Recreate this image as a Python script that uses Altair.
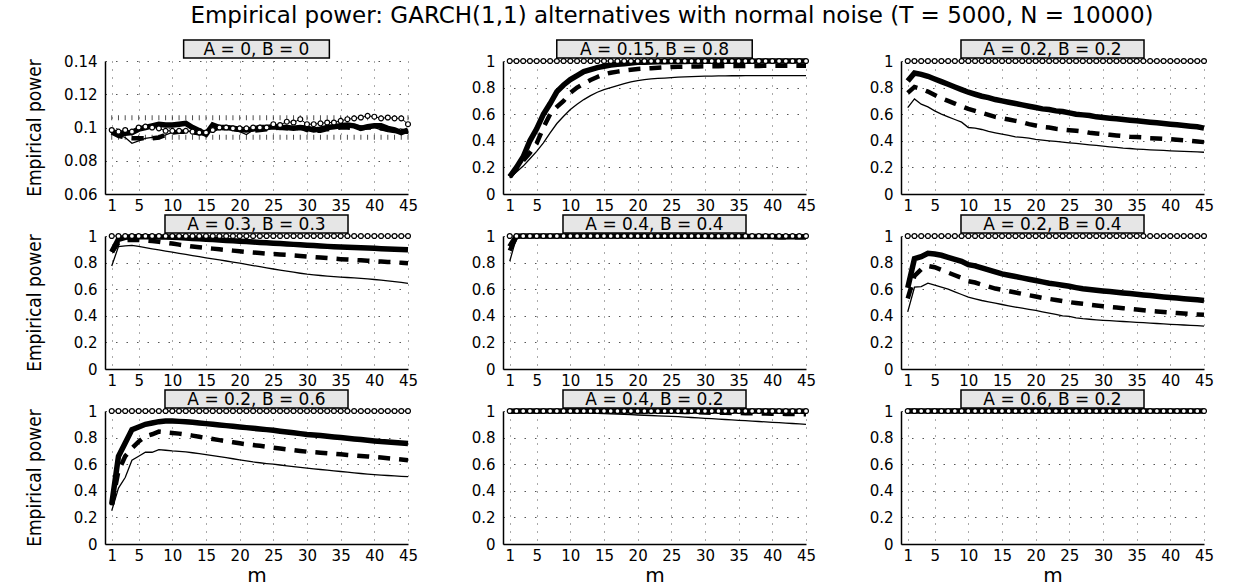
import altair as alt
import pandas as pd

# ---------------- data ----------------
M = list(range(1, 46))
X_TICKS = [1, 5, 10, 15, 20, 25, 30, 35, 40, 45]
Y_TICKS_FIRST = [0.06, 0.08, 0.1, 0.12, 0.14]
Y_TICKS = [0, 0.2, 0.4, 0.6, 0.8, 1]
CI_BAND = [0.0941, 0.1059]
PANEL_LABELS = ["A = 0, B = 0", "A = 0.15, B = 0.8", "A = 0.2, B = 0.2",
                "A = 0.3, B = 0.3", "A = 0.4, B = 0.4", "A = 0.2, B = 0.4",
                "A = 0.2, B = 0.6", "A = 0.4, B = 0.2", "A = 0.6, B = 0.2"]
TITLE = "Empirical power: GARCH(1,1) alternatives with normal noise (T = 5000, N = 10000)"

ONES = [1, 1, 1, 1, 1, 1, 1, 1, 1, 1, 1, 1, 1, 1, 1, 1, 1, 1, 1, 1, 1, 1, 1,
        1, 1, 1, 1, 1, 1, 1, 1, 1, 1, 1, 1, 1, 1, 1, 1, 1, 1, 1, 1, 1, 1]

P1_THIN = [0.0985, 0.0955, 0.094, 0.0905, 0.092, 0.0935, 0.094, 0.0945, 0.0955, 0.097,
           0.0975, 0.0975, 0.098, 0.0985, 0.0965, 0.099, 0.1, 0.0995, 0.099, 0.0975,
           0.0958, 0.0985, 0.0995, 0.1, 0.1005, 0.1, 0.0995, 0.1, 0.1, 0.0995,
           0.0995, 0.1, 0.1, 0.1005, 0.101, 0.1015, 0.1015, 0.101, 0.1005, 0.1,
           0.0985, 0.0975, 0.097, 0.097, 0.0965]
P1_DASH = [0.097, 0.095, 0.094, 0.0935, 0.0935, 0.0935, 0.0935, 0.094, 0.0955, 0.097,
           0.0975, 0.0975, 0.097, 0.0965, 0.0965, 0.0985, 0.1, 0.0995, 0.099, 0.0985,
           0.0985, 0.098, 0.0985, 0.099, 0.0995, 0.1, 0.0995, 0.0995, 0.1, 0.0985,
           0.098, 0.098, 0.099, 0.0995, 0.1, 0.1, 0.0995, 0.0995, 0.1, 0.1,
           0.0995, 0.099, 0.0985, 0.098, 0.0975]
P1_THICK = [0.0975, 0.0965, 0.0965, 0.097, 0.099, 0.1, 0.101, 0.102, 0.1015, 0.1015,
            0.102, 0.1025, 0.1, 0.098, 0.096, 0.1015, 0.1, 0.1, 0.0995, 0.099,
            0.0985, 0.099, 0.1, 0.1, 0.1005, 0.1, 0.1, 0.0995, 0.1, 0.0995,
            0.0985, 0.099, 0.1, 0.1005, 0.101, 0.1015, 0.101, 0.0995, 0.1005, 0.101,
            0.101, 0.0995, 0.0985, 0.097, 0.0985]
P1_CIRC = [0.0985, 0.0975, 0.0985, 0.0975, 0.1, 0.1005, 0.1, 0.0995, 0.098, 0.098,
           0.098, 0.098, 0.0975, 0.097, 0.097, 0.0985, 0.1, 0.1, 0.0995, 0.0995,
           0.0995, 0.1, 0.1, 0.1, 0.102, 0.1015, 0.1035, 0.103, 0.105, 0.102,
           0.102, 0.1025, 0.103, 0.103, 0.104, 0.105, 0.1055, 0.106, 0.107, 0.1065,
           0.1055, 0.106, 0.1055, 0.1055, 0.102]

P2_THIN = [0.12, 0.165, 0.21, 0.265, 0.32, 0.385, 0.46, 0.53, 0.585, 0.635,
           0.675, 0.71, 0.74, 0.765, 0.785, 0.8, 0.815, 0.83, 0.843, 0.853,
           0.86, 0.865, 0.869, 0.872, 0.875, 0.878, 0.88, 0.882, 0.884, 0.886,
           0.887, 0.888, 0.888, 0.889, 0.889, 0.89, 0.89, 0.89, 0.89, 0.89,
           0.89, 0.89, 0.89, 0.89, 0.89]
P2_DASH = [0.13, 0.19, 0.25, 0.31, 0.38, 0.5, 0.6, 0.655, 0.7, 0.76,
           0.8, 0.83, 0.857, 0.88, 0.9, 0.912, 0.92, 0.928, 0.934, 0.94,
           0.943, 0.946, 0.949, 0.952, 0.955, 0.956, 0.957, 0.958, 0.959, 0.96,
           0.961, 0.961, 0.962, 0.962, 0.962, 0.963, 0.963, 0.963, 0.964, 0.964,
           0.964, 0.965, 0.965, 0.965, 0.965]
P2_THICK = [0.13, 0.2, 0.28, 0.4, 0.49, 0.6, 0.68, 0.77, 0.82, 0.86,
            0.89, 0.92, 0.935, 0.95, 0.96, 0.97, 0.975, 0.98, 0.985, 0.99,
            0.99, 0.992, 0.994, 0.995, 0.996, 0.997, 0.997, 0.998, 0.998, 0.998,
            0.999, 0.999, 0.999, 0.999, 0.999, 0.999, 0.999, 1, 1, 1,
            1, 1, 1, 1, 1]

P3_THIN = [0.65, 0.715, 0.675, 0.655, 0.625, 0.6, 0.58, 0.56, 0.54, 0.5,
           0.495, 0.485, 0.47, 0.46, 0.45, 0.44, 0.43, 0.425, 0.42, 0.41,
           0.405, 0.4, 0.395, 0.39, 0.385, 0.38, 0.375, 0.37, 0.365, 0.36,
           0.355, 0.35, 0.345, 0.342, 0.338, 0.335, 0.332, 0.33, 0.328, 0.325,
           0.322, 0.32, 0.318, 0.316, 0.314]
P3_DASH = [0.76, 0.805, 0.79, 0.77, 0.745, 0.72, 0.7, 0.68, 0.66, 0.64,
           0.625, 0.61, 0.595, 0.58, 0.57, 0.56, 0.55, 0.54, 0.525, 0.515,
           0.505, 0.5, 0.49, 0.485, 0.48, 0.475, 0.47, 0.46, 0.455, 0.45,
           0.445, 0.44, 0.435, 0.43, 0.428, 0.425, 0.42, 0.418, 0.415, 0.412,
           0.408, 0.404, 0.4, 0.395, 0.39]
P3_THICK = [0.85, 0.91, 0.9, 0.885, 0.865, 0.845, 0.825, 0.805, 0.785, 0.765,
            0.75, 0.735, 0.725, 0.71, 0.7, 0.69, 0.68, 0.67, 0.66, 0.65,
            0.64, 0.635, 0.625, 0.62, 0.61, 0.6, 0.595, 0.59, 0.58, 0.575,
            0.57, 0.565, 0.56, 0.555, 0.55, 0.545, 0.54, 0.535, 0.53, 0.525,
            0.52, 0.515, 0.51, 0.505, 0.495]

P4_THIN = [0.775, 0.92, 0.925, 0.93, 0.922, 0.912, 0.903, 0.895, 0.887, 0.878,
           0.87, 0.862, 0.853, 0.845, 0.836, 0.828, 0.82, 0.812, 0.804, 0.796,
           0.787, 0.778, 0.769, 0.76, 0.752, 0.744, 0.736, 0.728, 0.72, 0.713,
           0.708, 0.703, 0.699, 0.695, 0.691, 0.688, 0.685, 0.682, 0.678, 0.673,
           0.668, 0.663, 0.657, 0.651, 0.644]
P4_DASH = [0.88, 0.95, 0.97, 0.972, 0.97, 0.966, 0.962, 0.957, 0.95, 0.943,
           0.935, 0.928, 0.921, 0.915, 0.91, 0.905, 0.9, 0.895, 0.89, 0.885,
           0.88, 0.876, 0.872, 0.868, 0.864, 0.861, 0.858, 0.854, 0.85, 0.846,
           0.842, 0.838, 0.834, 0.83, 0.826, 0.823, 0.82, 0.817, 0.814, 0.811,
           0.808, 0.805, 0.802, 0.799, 0.796]
P4_THICK = [0.88, 0.975, 0.99, 0.995, 0.995, 0.995, 0.994, 0.993, 0.992, 0.99,
            0.988, 0.985, 0.982, 0.979, 0.976, 0.973, 0.97, 0.967, 0.964, 0.961,
            0.958, 0.955, 0.952, 0.949, 0.946, 0.943, 0.94, 0.937, 0.934, 0.931,
            0.928, 0.925, 0.922, 0.92, 0.917, 0.915, 0.913, 0.911, 0.909, 0.907,
            0.905, 0.903, 0.901, 0.899, 0.897]

P5_THIN = [0.81, 0.99, 0.995, 0.996, 0.996, 0.996, 0.996, 0.996, 0.996, 0.996,
           0.996, 0.996, 0.996, 0.996, 0.996, 0.995, 0.995, 0.995, 0.994, 0.994,
           0.994, 0.993, 0.993, 0.993, 0.992, 0.992, 0.992, 0.991, 0.991, 0.991,
           0.99, 0.99, 0.99, 0.989, 0.989, 0.989, 0.988, 0.988, 0.988, 0.987,
           0.987, 0.986, 0.986, 0.985, 0.985]
P5_DASH = [0.89, 0.995, 0.999, 0.999, 0.999, 0.999, 0.999, 0.999, 0.999, 0.999,
           0.999, 0.999, 0.999, 0.999, 0.999, 0.999, 0.999, 0.999, 0.999, 0.999,
           0.997, 0.997, 0.997, 0.997, 0.997, 0.997, 0.997, 0.997, 0.997, 0.997,
           0.994, 0.994, 0.994, 0.994, 0.994, 0.994, 0.994, 0.994, 0.994, 0.994,
           0.99, 0.99, 0.99, 0.99, 0.99]
P5_THICK = [0.92, 0.998, 1, 1, 1, 1, 1, 1, 1, 1,
            1, 1, 1, 1, 1, 1, 1, 1, 1, 1,
            0.999, 0.999, 0.999, 0.999, 0.999, 0.999, 0.999, 0.999, 0.999, 0.999,
            0.997, 0.997, 0.997, 0.997, 0.997, 0.997, 0.997, 0.997, 0.997, 0.997,
            0.995, 0.995, 0.995, 0.995, 0.995]

P6_THIN = [0.43, 0.615, 0.62, 0.645, 0.63, 0.615, 0.6, 0.58, 0.56, 0.54,
           0.527, 0.515, 0.505, 0.495, 0.485, 0.475, 0.466, 0.457, 0.448, 0.44,
           0.43, 0.42, 0.41, 0.4, 0.395, 0.385, 0.378, 0.374, 0.37, 0.366,
           0.363, 0.36, 0.357, 0.354, 0.351, 0.348, 0.345, 0.342, 0.339, 0.336,
           0.333, 0.331, 0.328, 0.326, 0.323]
P6_DASH = [0.53, 0.7, 0.75, 0.775, 0.765, 0.745, 0.725, 0.705, 0.685, 0.66,
           0.65, 0.635, 0.62, 0.605, 0.595, 0.585, 0.575, 0.565, 0.555, 0.545,
           0.535, 0.527, 0.519, 0.511, 0.503, 0.496, 0.49, 0.484, 0.478, 0.472,
           0.467, 0.462, 0.457, 0.452, 0.447, 0.442, 0.437, 0.433, 0.429, 0.425,
           0.421, 0.417, 0.413, 0.41, 0.407]
P6_THICK = [0.61, 0.83, 0.845, 0.87, 0.865, 0.855, 0.84, 0.825, 0.81, 0.785,
            0.775, 0.76, 0.745, 0.73, 0.715, 0.705, 0.695, 0.685, 0.675, 0.665,
            0.655, 0.645, 0.638, 0.63, 0.622, 0.612, 0.603, 0.598, 0.592, 0.587,
            0.582, 0.577, 0.572, 0.567, 0.562, 0.557, 0.552, 0.547, 0.542, 0.537,
            0.533, 0.528, 0.524, 0.52, 0.515]

P7_THIN = [0.25, 0.42, 0.5, 0.63, 0.66, 0.69, 0.69, 0.71, 0.705, 0.7,
           0.697, 0.692, 0.686, 0.679, 0.672, 0.665, 0.657, 0.649, 0.641, 0.633,
           0.625, 0.617, 0.611, 0.605, 0.6, 0.594, 0.588, 0.582, 0.576, 0.57,
           0.565, 0.56, 0.555, 0.55, 0.545, 0.54, 0.535, 0.53, 0.526, 0.522,
           0.518, 0.515, 0.512, 0.509, 0.506]
P7_DASH = [0.29, 0.55, 0.66, 0.72, 0.77, 0.81, 0.825, 0.845, 0.84, 0.835,
           0.83, 0.823, 0.815, 0.806, 0.797, 0.789, 0.781, 0.773, 0.765, 0.757,
           0.75, 0.744, 0.738, 0.731, 0.724, 0.718, 0.712, 0.706, 0.7, 0.694,
           0.69, 0.686, 0.682, 0.678, 0.674, 0.67, 0.666, 0.662, 0.658, 0.654,
           0.65, 0.645, 0.64, 0.635, 0.63]
P7_THICK = [0.3, 0.66, 0.76, 0.86, 0.88, 0.9, 0.91, 0.92, 0.925, 0.925,
            0.922, 0.92, 0.915, 0.91, 0.905, 0.9, 0.895, 0.89, 0.885, 0.88,
            0.875, 0.87, 0.865, 0.86, 0.855, 0.848, 0.842, 0.836, 0.83, 0.824,
            0.82, 0.815, 0.81, 0.805, 0.8, 0.795, 0.79, 0.785, 0.78, 0.775,
            0.77, 0.767, 0.763, 0.759, 0.755]

P8_THIN = [0.995, 0.997, 0.997, 0.997, 0.997, 0.996, 0.995, 0.994, 0.992, 0.99,
           0.988, 0.986, 0.984, 0.982, 0.98, 0.978, 0.976, 0.974, 0.972, 0.97,
           0.968, 0.966, 0.964, 0.962, 0.96, 0.957, 0.954, 0.951, 0.948, 0.945,
           0.942, 0.939, 0.936, 0.933, 0.93, 0.927, 0.924, 0.921, 0.918, 0.915,
           0.912, 0.909, 0.906, 0.903, 0.9]
P8_DASH = [0.998, 0.998, 0.998, 0.998, 0.998, 0.998, 0.998, 0.998, 0.998, 0.998,
           0.998, 0.998, 0.998, 0.998, 0.998, 0.998, 0.998, 0.998, 0.998, 0.998,
           0.997, 0.997, 0.996, 0.996, 0.995, 0.994, 0.993, 0.992, 0.99, 0.988,
           0.987, 0.986, 0.986, 0.985, 0.985, 0.984, 0.983, 0.982, 0.981, 0.98,
           0.979, 0.978, 0.977, 0.976, 0.975]
P8_THICK = [0.998, 1, 1, 1, 1, 1, 1, 1, 1, 1,
            1, 1, 1, 1, 1, 1, 1, 1, 1, 1,
            1, 1, 1, 1, 1, 1, 1, 1, 1, 1,
            1, 1, 1, 1, 1, 1, 1, 1, 1, 1,
            0.998, 0.998, 0.998, 0.998, 0.998]

SERIES = [
    {"thin": P1_THIN, "dash": P1_DASH, "thick": P1_THICK, "circ": P1_CIRC},
    {"thin": P2_THIN, "dash": P2_DASH, "thick": P2_THICK, "circ": ONES},
    {"thin": P3_THIN, "dash": P3_DASH, "thick": P3_THICK, "circ": ONES},
    {"thin": P4_THIN, "dash": P4_DASH, "thick": P4_THICK, "circ": ONES},
    {"thin": P5_THIN, "dash": P5_DASH, "thick": P5_THICK, "circ": ONES},
    {"thin": P6_THIN, "dash": P6_DASH, "thick": P6_THICK, "circ": ONES},
    {"thin": P7_THIN, "dash": P7_DASH, "thick": P7_THICK, "circ": ONES},
    {"thin": P8_THIN, "dash": P8_DASH, "thick": P8_THICK, "circ": ONES},
    {"thin": ONES, "dash": ONES, "thick": ONES, "circ": ONES},
]

# ---------------- layout / style ----------------
W, H = 303, 133
FONT = "DejaVu Sans"
NARROW = "Liberation Sans Narrow, DejaVu Sans Condensed, sans-serif"
LABEL_SIZE = 17
ADV = {"A": 0.684, "B": 0.686, " ": 0.318, "=": 0.838, ",": 0.318, ".": 0.318}


def text_width(s, size):
    return sum(ADV.get(c, 0.636) for c in s) * size


def panel(i):
    row, col = divmod(i, 3)
    rows = []
    for name, lst in SERIES[i].items():
        for m, v in zip(M, lst):
            rows.append({"m": m, "series": name, "value": v})
    df = pd.DataFrame(rows)

    ydom = [0.06, 0.14] if i == 0 else [0, 1]
    yticks = Y_TICKS_FIRST if i == 0 else Y_TICKS

    xaxis_kw = dict(values=X_TICKS, format="d", labelFlush=False)
    if row == 2:
        xaxis_kw.update(title="m", titleY=37, titleBaseline="alphabetic")
    else:
        xaxis_kw.update(title=None)
    yaxis_kw = dict(values=yticks, format="~g", labelFlush=False)
    if col == 0:
        yaxis_kw.update(title="Empirical power", titleX=-71, titleBaseline="middle")
    else:
        yaxis_kw.update(title=None)

    xenc = alt.X("m:Q", scale=alt.Scale(domain=[0, 45], nice=False, zero=False),
                 axis=alt.Axis(**xaxis_kw))
    yenc = alt.Y("value:Q", scale=alt.Scale(domain=ydom, nice=False, zero=False),
                 axis=alt.Axis(**yaxis_kw))

    base = alt.Chart(df).encode(x=xenc, y=yenc)
    layers = []
    if i == 0:
        ci_rows = [{"m": m, "value": c} for c in CI_BAND for m in M]
        layers.append(alt.Chart(pd.DataFrame(ci_rows)).mark_tick(
            orient="vertical", color="black", size=5, thickness=1).encode(x=xenc, y=yenc))
    layers.append(base.transform_filter(alt.datum.series == "thin").mark_line(
        color="black", strokeWidth=1.3))
    layers.append(base.transform_filter(alt.datum.series == "dash").mark_line(
        color="black", strokeWidth=4.5, strokeDash=[12, 9]))
    layers.append(base.transform_filter(alt.datum.series == "thick").mark_line(
        color="black", strokeWidth=5.5))
    layers.append(base.transform_filter(alt.datum.series == "circ").mark_line(
        color="black", strokeWidth=1))
    layers.append(base.transform_filter(alt.datum.series == "circ").mark_point(
        shape="circle", filled=True, fill="white", stroke="black", strokeWidth=1.2,
        size=24, opacity=1))

    lab = PANEL_LABELS[i]
    bw = text_width(lab, LABEL_SIZE) * 1.15 + 24
    ldf = pd.DataFrame({"label": [lab]})
    box = alt.Chart(ldf).mark_rect(fill="#e6e6e6", stroke="black", strokeWidth=1.5).encode(
        x=alt.value(W / 2 - bw / 2), x2=alt.value(W / 2 + bw / 2),
        y=alt.value(-21), y2=alt.value(-3))
    txt = alt.Chart(ldf).mark_text(font=FONT, fontSize=LABEL_SIZE, color="black",
                                   align="center", baseline="middle").encode(
        x=alt.value(W / 2), y=alt.value(-11.5), text="label:N")
    layers += [box, txt]
    return alt.layer(*layers).properties(width=W, height=H)


panels = [panel(i) for i in range(9)]

chart = alt.concat(*panels, columns=3, spacing={"row": 42, "column": 95},
                   bounds="flush").properties(
    title=alt.TitleParams(TITLE, font=FONT, fontSize=23, fontWeight="normal",
                          color="black", anchor="middle", offset=11, dx=52),
    padding={"left": 25, "top": 5, "right": 0, "bottom": 0},
).configure_view(strokeWidth=0).configure_axis(
    labelFont=FONT, labelFontSize=15, labelColor="black",
    domainColor="black", domainWidth=1.5, ticks=False,
    grid=True, gridColor="#444444", gridWidth=1, gridOpacity=0.9,
    titleFont=FONT, titleFontWeight="normal", titleColor="black",
).configure_axisX(
    gridDash=[1, 7], labelPadding=4, titleFontSize=20,
).configure_axisY(
    gridDash=[1.5, 9], labelPadding=8, titleFont=NARROW, titleFontSize=19,
)

chart.save("out.html", embed_options={"renderer": "svg", "actions": False})
